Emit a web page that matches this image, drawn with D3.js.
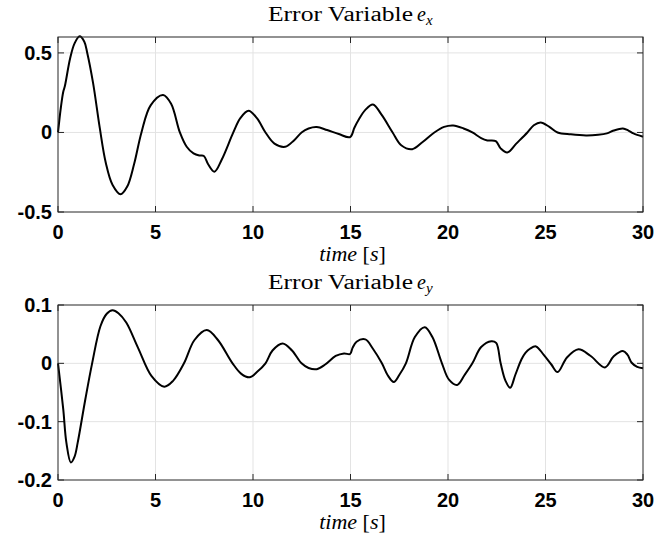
<!DOCTYPE html>
<meta charset="utf-8">
<script src="https://d3js.org/d3.v7.min.js"></script>
<style>
  body { margin: 0; background: #fff; }
</style>
<div id="chart"></div>
<script>

// time samples and values
var exTime  = [0, 0.15, 0.27, 0.35, 0.62, 0.85, 1.11, 1.35, 1.5, 1.8, 2.14, 2.45, 2.8, 3.21, 3.55, 3.9, 4.28, 4.75, 5.39, 5.8, 6.25, 6.6, 6.95, 7.25, 7.48, 7.7, 8.02, 8.4, 8.99, 9.35, 9.77, 10.2, 10.64, 11.1, 11.65, 12.1, 12.49, 12.85, 13.27, 13.8, 14.4, 14.98, 15.2, 15.41, 15.75, 16.15, 16.6, 17.16, 17.6, 18.17, 18.7, 19.3, 19.8, 20.27, 20.8, 21.25, 21.7, 22.02, 22.45, 22.7, 23.04, 23.5, 24.07, 24.4, 24.75, 25.2, 25.62, 26.3, 27.08, 27.7, 28.15, 28.5, 28.97, 29.25, 29.51, 30];
var exValue = [0, 0.16, 0.256, 0.29, 0.465, 0.56, 0.604, 0.57, 0.50, 0.31, 0.03, -0.19, -0.33, -0.388, -0.34, -0.2, 0, 0.17, 0.235, 0.18, 0, -0.09, -0.132, -0.145, -0.148, -0.2, -0.247, -0.17, 0, 0.09, 0.136, 0.09, 0, -0.07, -0.09, -0.05, 0, 0.025, 0.034, 0.015, -0.01, -0.029, 0.03, 0.078, 0.14, 0.176, 0.11, 0, -0.08, -0.105, -0.06, 0, 0.035, 0.044, 0.025, 0, -0.035, -0.05, -0.055, -0.1, -0.126, -0.07, 0, 0.045, 0.063, 0.035, 0, -0.012, -0.019, -0.015, -0.006, 0.012, 0.025, 0.012, -0.006, -0.027];

var eyTime  = [0, 0.27, 0.43, 0.66, 0.85, 1.01, 1.4, 1.75, 2.18, 2.5, 2.8, 3.1, 3.5, 4.1, 4.8, 5.45, 5.9, 6.46, 7.0, 7.63, 8.2, 8.95, 9.4, 9.82, 10.2, 10.64, 11.0, 11.52, 12.0, 12.49, 12.85, 13.27, 13.7, 14.24, 14.67, 14.98, 15.1, 15.31, 15.76, 16.15, 16.61, 16.9, 17.22, 17.5, 17.84, 18.3, 18.81, 19.2, 19.69, 20.05, 20.47, 20.85, 21.25, 21.7, 22.22, 22.47, 22.7, 22.95, 23.19, 23.45, 23.77, 23.97, 24.2, 24.51, 24.9, 25.3, 25.62, 26.1, 26.69, 27.3, 28.05, 28.5, 28.97, 29.2, 29.42, 29.7, 30];
var eyValue = [0, -0.079, -0.136, -0.17, -0.16, -0.136, -0.062, 0, 0.064, 0.085, 0.091, 0.086, 0.07, 0.027, -0.022, -0.04, -0.03, 0, 0.04, 0.057, 0.04, 0, -0.018, -0.024, -0.015, 0, 0.022, 0.034, 0.022, 0, -0.008, -0.01, -0.002, 0.0126, 0.017, 0.016, 0.026, 0.037, 0.041, 0.025, 0, -0.02, -0.032, -0.02, 0, 0.045, 0.062, 0.045, 0, -0.028, -0.037, -0.02, 0, 0.028, 0.038, 0.035, 0, -0.03, -0.042, -0.02, 0.007, 0.018, 0.025, 0.029, 0.015, -0.002, -0.015, 0.01, 0.024, 0.013, -0.007, 0.012, 0.021, 0.015, 0.001, -0.006, -0.0086];

var xTicks  = [0, 5, 10, 15, 20, 25, 30];
var exTicks = [-0.5, 0, 0.5];
var eyTicks = [-0.2, -0.1, 0, 0.1];

var width = 672, height = 541;
var left = 58, right = 643;

var svg = d3.select("#chart")
  .append("svg")
    .attr("width", width)
    .attr("height", height);

var x = d3.scaleLinear().domain([0, 30]).range([left, right]);

function panel(top, bottom, yDomain, yTicks, times, values, sub) {
  var y = d3.scaleLinear().domain(yDomain).range([bottom, top]);
  var g = svg.append("g");

  // grid
  g.selectAll(".gx").data(xTicks.slice(1, -1)).enter().append("line")
    .attr("x1", d => x(d)).attr("x2", d => x(d))
    .attr("y1", top).attr("y2", bottom)
    .attr("stroke", "#e3e3e3").attr("stroke-width", 1);
  g.selectAll(".gy").data(yTicks.filter(d => d > yDomain[0] && d < yDomain[1])).enter().append("line")
    .attr("x1", left).attr("x2", right)
    .attr("y1", d => y(d)).attr("y2", d => y(d))
    .attr("stroke", "#e3e3e3").attr("stroke-width", 1);

  // inward ticks on all four sides
  var tl = 6;
  xTicks.forEach(function(d) {
    g.append("line").attr("x1", x(d)).attr("x2", x(d)).attr("y1", bottom).attr("y2", bottom - tl)
      .attr("stroke", "#262626");
    g.append("line").attr("x1", x(d)).attr("x2", x(d)).attr("y1", top).attr("y2", top + tl)
      .attr("stroke", "#262626");
  });
  yTicks.forEach(function(d) {
    g.append("line").attr("x1", left).attr("x2", left + tl).attr("y1", y(d)).attr("y2", y(d))
      .attr("stroke", "#262626");
    g.append("line").attr("x1", right).attr("x2", right - tl).attr("y1", y(d)).attr("y2", y(d))
      .attr("stroke", "#262626");
  });

  // curve
  var line = d3.line()
    .x(function(d, i) { return x(times[i]); })
    .y(function(d) { return y(d); })
    .curve(d3.curveCatmullRom.alpha(0.5));
  g.append("path")
    .datum(values)
    .attr("fill", "none")
    .attr("stroke", "#000")
    .attr("stroke-width", 2)
    .attr("stroke-linejoin", "round")
    .attr("d", line);

  // box
  g.append("rect")
    .attr("x", left).attr("y", top)
    .attr("width", right - left).attr("height", bottom - top)
    .attr("fill", "none").attr("stroke", "#262626").attr("stroke-width", 1);

  // tick labels
  g.selectAll(".xl").data(xTicks).enter().append("text")
    .attr("x", d => x(d)).attr("y", bottom + 27)
    .attr("text-anchor", "middle")
    .style("font", "bold 20px 'Liberation Sans', Arial, sans-serif")
    .text(d => d);
  g.selectAll(".yl").data(yTicks).enter().append("text")
    .attr("x", left - 6).attr("y", d => y(d) + 7)
    .attr("text-anchor", "end")
    .style("font", "bold 20px 'Liberation Sans', Arial, sans-serif")
    .text(d => String(d));

  // title
  var t = g.append("text")
    .attr("y", top - 16)
    .style("font", "20px 'Liberation Serif', 'Times New Roman', serif");
  t.append("tspan").attr("x", 268).attr("textLength", 145).attr("lengthAdjust", "spacingAndGlyphs")
    .text("Error Variable");
  t.append("tspan").attr("x", 417).style("font-style", "italic").text("e");
  t.append("tspan").attr("dy", 4).style("font-style", "italic").style("font-size", "15px").text(sub);

  // x label
  var xl = g.append("text")
    .attr("x", (left + right) / 2 + 2).attr("y", bottom + 49)
    .attr("text-anchor", "middle")
    .style("font", "22px 'Liberation Serif', 'Times New Roman', serif");
  xl.append("tspan").style("font-style", "italic").text("time ");
  xl.append("tspan").text("[");
  xl.append("tspan").style("font-style", "italic").text("s");
  xl.append("tspan").text("]");
}

panel(37, 212, [-0.5, 0.6], exTicks, exTime, exValue, "x");
panel(305, 480, [-0.2, 0.1], eyTicks, eyTime, eyValue, "y");

</script>
